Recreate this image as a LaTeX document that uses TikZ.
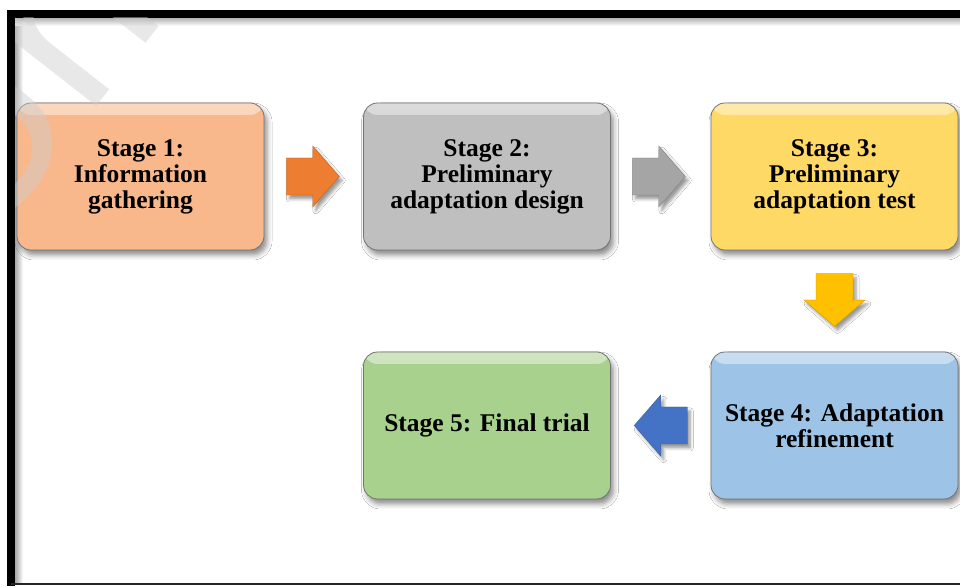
\documentclass[tikz,border=0pt]{standalone}
\usepackage{fontspec}
\setmainfont{Liberation Serif}
\newfontfamily\wmfont{Liberation Sans}
\usetikzlibrary{shadows.blur,calc,fadings}

\definecolor{peach}{HTML}{F8B88B}
\definecolor{greybox}{HTML}{BFBFBF}
\definecolor{goldbox}{HTML}{FFD966}
\definecolor{skybox}{HTML}{9DC3E6}
\definecolor{leafbox}{HTML}{A9D18E}
\definecolor{orangearrow}{HTML}{ED7D31}
\definecolor{greyarrow}{HTML}{A5A5A5}
\definecolor{goldarrow}{HTML}{FFC000}
\definecolor{bluearrow}{HTML}{4472C4}

\tikzset{
  stagebox/.style={
    draw=black!55, line width=0.8pt, fill=#1,
    rounded corners=14pt,
    minimum width=247pt, minimum height=147pt,
    align=center, inner sep=0pt,
    font=\bfseries\fontsize{25.5}{26}\selectfont,
    blur shadow={shadow xshift=3pt, shadow yshift=-5pt, shadow blur radius=5pt, shadow opacity=45},
    path picture={
      \fill[white, opacity=0.45, path fading=south]
        (path picture bounding box.north west) rectangle
        ([yshift=-12pt]path picture bounding box.north east);
    }
  },
  % a block arrow pointing east, centred on the origin
  blockarrow/.pic={
    \path[fill=#1, draw=#1!80!black, line width=0.4pt,
          blur shadow={shadow xshift=3pt, shadow yshift=-4pt, shadow blur radius=3pt, shadow opacity=40}]
      (-26.5,-18.5) -- (0,-18.5) -- (0,-30.5) -- (26.5,0) -- (0,30.5) -- (0,18.5) -- (-26.5,18.5) -- cycle;
  }
}

\begin{document}
\begin{tikzpicture}[x=1pt,y=1pt]
  \useasboundingbox (0,0) rectangle (960,586);
  \fill[white] (0,0) rectangle (960,586);

  % frame with its soft inner shadow
  \shade[left color=black!35, right color=white] (15,2) rectangle (23,568);
  \shade[top color=black!30, bottom color=white] (15,560) rectangle (960,568);
  \draw[line width=8pt] (11,0) -- (11,572) -- (960,572);
  \draw[line width=2pt, black!85] (11,2) -- (960,2);

  % stages
  \node[stagebox=peach]    (s1) at (140.5,409.5) {Stage 1:\\Information\\gathering};
  \node[stagebox=greybox]  (s2) at (487,409.5)   {Stage 2:\\Preliminary\\adaptation design};
  \node[stagebox=goldbox]  (s3) at (834.5,409.5) {Stage 3:\\Preliminary\\adaptation test};
  \node[stagebox=skybox]   (s4) at (834.5,160.5) {Stage 4: Adaptation\\refinement};
  \node[stagebox=leafbox]  (s5) at (487,160.5)   {Stage 5: Final trial};

  % block arrows between the stages
  \coordinate (a1) at ($(s1.east)!0.49!(s2.west)$);
  \coordinate (a2) at ($(s2.east)!0.48!(s3.west)$);
  \coordinate (a3) at ($(s3.south)!0.49!(s4.north)$);
  \coordinate (a4) at ($(s4.west)!0.5!(s5.east)$);
  \pic at (a1) {blockarrow=orangearrow};
  \pic at (a2) {blockarrow=greyarrow};
  \pic[rotate=-90] at (a3) {blockarrow=goldarrow};
  \pic[rotate=180] at (a4) {blockarrow=bluearrow};

  % faint watermark in the top-left corner
  \begin{scope}
    \clip (15,0) rectangle (960,568);
    \node[rotate=52, text=black!20, opacity=0.45, inner sep=0pt,
          font=\wmfont\fontsize{240}{240}\selectfont, anchor=base west]
      at (-20,330) {Univ};
  \end{scope}
\end{tikzpicture}
\end{document}
